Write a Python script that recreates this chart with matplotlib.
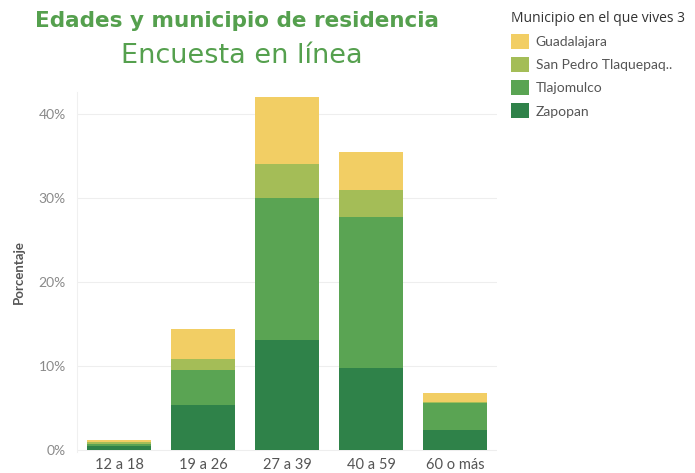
import numpy as np
import matplotlib.pyplot as plt
from matplotlib.patches import Patch

# edades y municipio (porcentaje de respuestas)
edades = ["12 a 18", "19 a 26", "27 a 39", "40 a 59", "60 o más"]
zapopan = [0.5, 5.36, 13.1, 9.8, 2.4]
tlajomulco = [0.25, 4.1, 16.9, 17.9, 3.25]
san_pedro = [0.15, 1.36, 4.0, 3.2, 0.05]
guadalajara = [0.25, 3.6, 8.0, 4.6, 1.1]

municipios = ["Guadalajara", "San Pedro Tlaquepaq..", "Tlajomulco", "Zapopan"]
colores = {
    "Zapopan": "#2F8249",
    "Tlajomulco": "#5AA453",
    "San Pedro Tlaquepaq..": "#A4BD57",
    "Guadalajara": "#F2CE64",
}

plt.rcParams["font.family"] = ["Lato", "DejaVu Sans"]

fig = plt.figure(figsize=(6.95, 4.73), dpi=100)
ax = fig.add_axes([77 / 695, 1 - 452 / 473, 420 / 695, 360 / 473])

x = np.arange(len(edades))
bottom = np.zeros(len(edades))
for nombre, vals in [("Zapopan", zapopan), ("Tlajomulco", tlajomulco),
                     ("San Pedro Tlaquepaq..", san_pedro), ("Guadalajara", guadalajara)]:
    ax.bar(x, vals, bottom=bottom, width=0.76, color=colores[nombre], zorder=3)
    bottom += np.array(vals)

ax.set_xlim(-0.5, 4.5)
ax.set_ylim(-0.24, 42.6)
ax.set_yticks([0, 10, 20, 30, 40])
ax.set_yticklabels(["0%", "10%", "20%", "30%", "40%"])
ax.set_xticks(x)
ax.set_xticklabels(edades)
ax.grid(axis="y", color="#eeeeee", linewidth=0.8, zorder=0)
for s in ["top", "right", "bottom"]:
    ax.spines[s].set_visible(False)
ax.spines["left"].set_color("#f0f0f0")
ax.tick_params(axis="y", length=0, colors="#8a8a8a", labelsize=10, pad=8)
ax.tick_params(axis="x", length=0, colors="#555555", labelsize=10.5, pad=4)
ax.set_ylabel("Porcentaje", color="#555555", fontsize=9.5, fontweight="bold", labelpad=10)

fig.text(237 / 695, 1 - 21 / 473, "Edades y municipio de residencia", ha="center", va="center",
         fontsize=15.5, fontweight="bold", color="#55A04E", family="DejaVu Sans")
fig.text(242 / 695, 1 - 56 / 473, "Encuesta en línea", ha="center", va="center",
         fontsize=19.5, color="#55A04E", family="DejaVu Sans")

handles = [Patch(facecolor=colores[m], edgecolor="none") for m in municipios]
leg = fig.legend(handles, municipios, loc="upper left", bbox_to_anchor=(501 / 695, 1 - 1 / 473),
                 title="Municipio en el que vives 3", frameon=False, alignment="left",
                 fontsize=10, title_fontsize=10, handlelength=1.3, handleheight=1.3,
                 handletextpad=0.5, labelspacing=0.58, borderpad=0.2)
leg.get_title().set_color("#333333")
leg.get_title().set_family(["Open Sans", "DejaVu Sans"])
for t in leg.get_texts():
    t.set_color("#555555")

fig.savefig("out.png", dpi=100)
